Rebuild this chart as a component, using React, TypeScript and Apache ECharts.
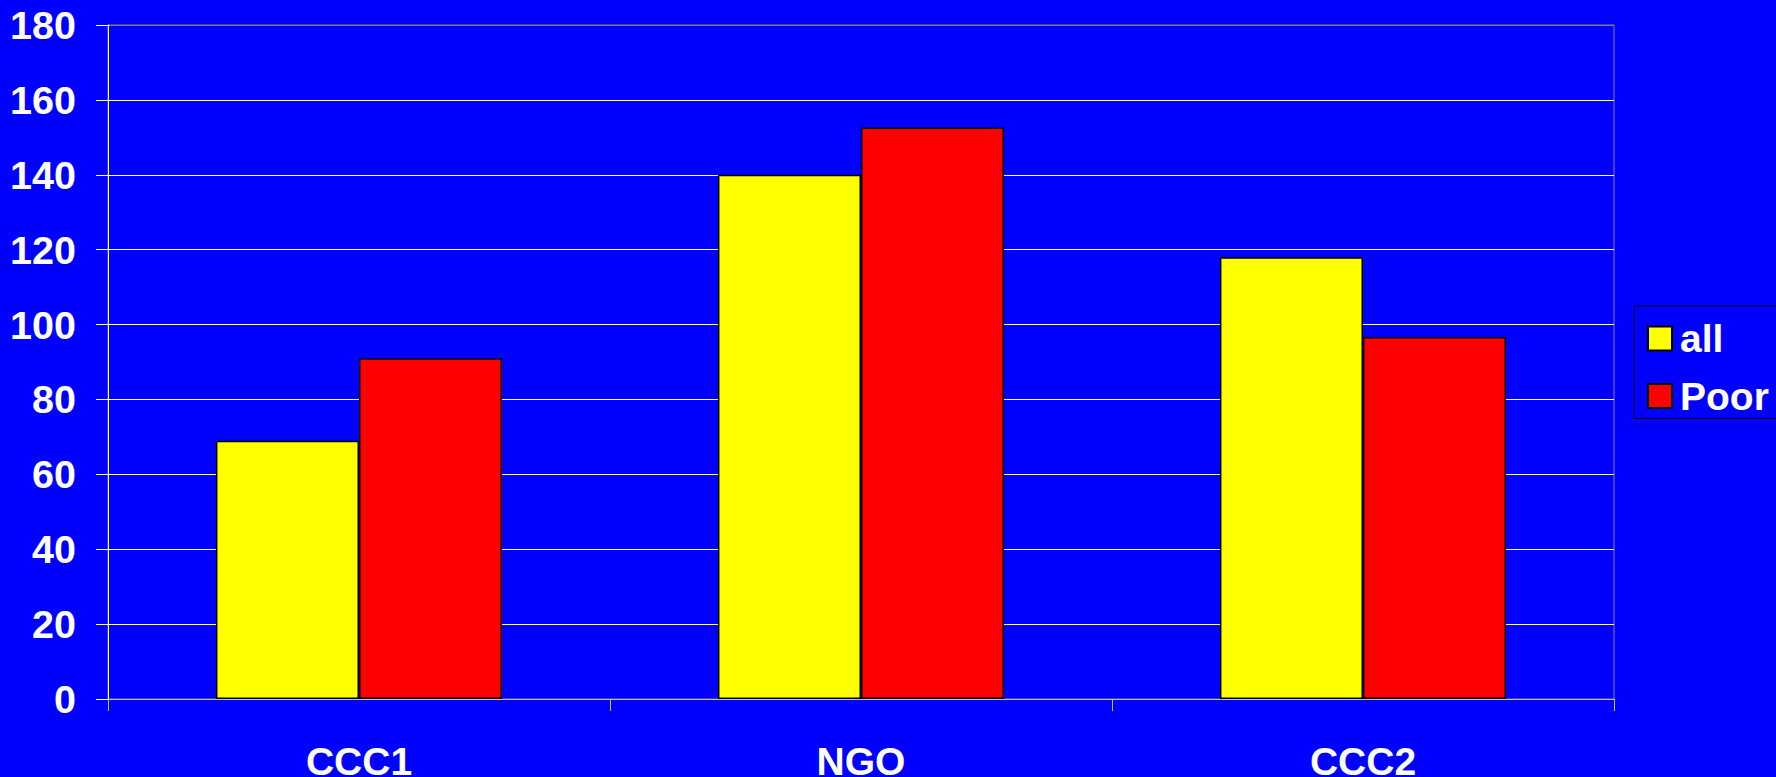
import React, { useEffect, useRef } from "react";
import * as echarts from "echarts";

const categories = ["CCC1", "NGO", "CCC2"];
const allValues = [69, 140, 118];
const poorValues = [91, 152.6, 96.7];
const seriesNames = ["all", "Poor"];
const yMin = 0;
const yMax = 180;
const yInterval = 20;

const FONT = '"Liberation Sans", Arial, Helvetica, sans-serif';

export default function App() {
  const ref = useRef<HTMLDivElement>(null);

  useEffect(() => {
    if (!ref.current) return;
    const chart = echarts.init(ref.current, undefined, { renderer: "svg" });

    // one colour per horizontal grid line; the top one doubles as the plot frame
    const lineCount = (yMax - yMin) / yInterval + 1;
    const splitColors = Array.from({ length: lineCount }, (_, i) =>
      i === lineCount - 1 ? "#808080" : "#ffffff"
    );

    const barStyle = (color: string) => ({
      color,
      borderColor: "#000000",
      borderWidth: 1.5,
    });

    chart.setOption({
      animation: false,
      backgroundColor: "#0000ff",
      textStyle: { fontFamily: FONT },
      grid: {
        left: 108,
        right: 162,
        top: 25,
        bottom: 78,
        outerBoundsMode: "none",
        containLabel: false,
        show: true,
        backgroundColor: "transparent",
        borderColor: "#808080",
        borderWidth: 1,
      },
      legend: {
        orient: "vertical",
        left: 1634,
        top: 306,
        padding: [13, 40, 3, 13],
        itemWidth: 24,
        itemHeight: 24,
        itemGap: 18.5,
        borderColor: "#000000",
        borderWidth: 1,
        backgroundColor: "#0000ff",
        icon: "rect",
        textStyle: {
          color: "#ffffff",
          fontFamily: FONT,
          fontWeight: "bold",
          fontSize: 39,
          lineHeight: 30,
          padding: [0, 0, 0, 3],
        },
        data: seriesNames,
      },
      xAxis: {
        type: "category",
        data: categories,
        axisLine: { show: true, lineStyle: { color: "#c0c0c0", width: 1 } },
        axisTick: {
          show: true,
          inside: false,
          length: 12,
          alignWithLabel: false,
          lineStyle: { color: "#c0c0c0" },
        },
        axisLabel: {
          color: "#ffffff",
          fontFamily: FONT,
          fontWeight: "bold",
          fontSize: 39,
          margin: 43,
        },
        splitLine: { show: false },
      },
      yAxis: {
        type: "value",
        min: yMin,
        max: yMax,
        interval: yInterval,
        axisLine: { show: true, lineStyle: { color: "#ffffff", width: 1 } },
        axisTick: { show: true, length: 12, lineStyle: { color: "#ffffff" } },
        axisLabel: {
          color: "#ffffff",
          fontFamily: FONT,
          fontWeight: "bold",
          fontSize: 39.5,
          margin: 32,
        },
        splitLine: { show: true, lineStyle: { color: splitColors, width: 1 } },
      },
      series: [
        {
          name: seriesNames[0],
          type: "bar",
          data: allValues,
          barGap: "0%",
          barCategoryGap: "43%",
          itemStyle: barStyle("#ffff00"),
        },
        {
          name: seriesNames[1],
          type: "bar",
          data: poorValues,
          barGap: "0%",
          barCategoryGap: "43%",
          itemStyle: barStyle("#ff0000"),
        },
      ],
    });

    return () => chart.dispose();
  }, []);

  return (
    <div
      style={{
        position: "fixed",
        left: 0,
        top: 0,
        width: 1776,
        height: 777,
        background: "#0000ff",
      }}
    >
      <div ref={ref} style={{ width: 1776, height: 777 }} />
    </div>
  );
}
